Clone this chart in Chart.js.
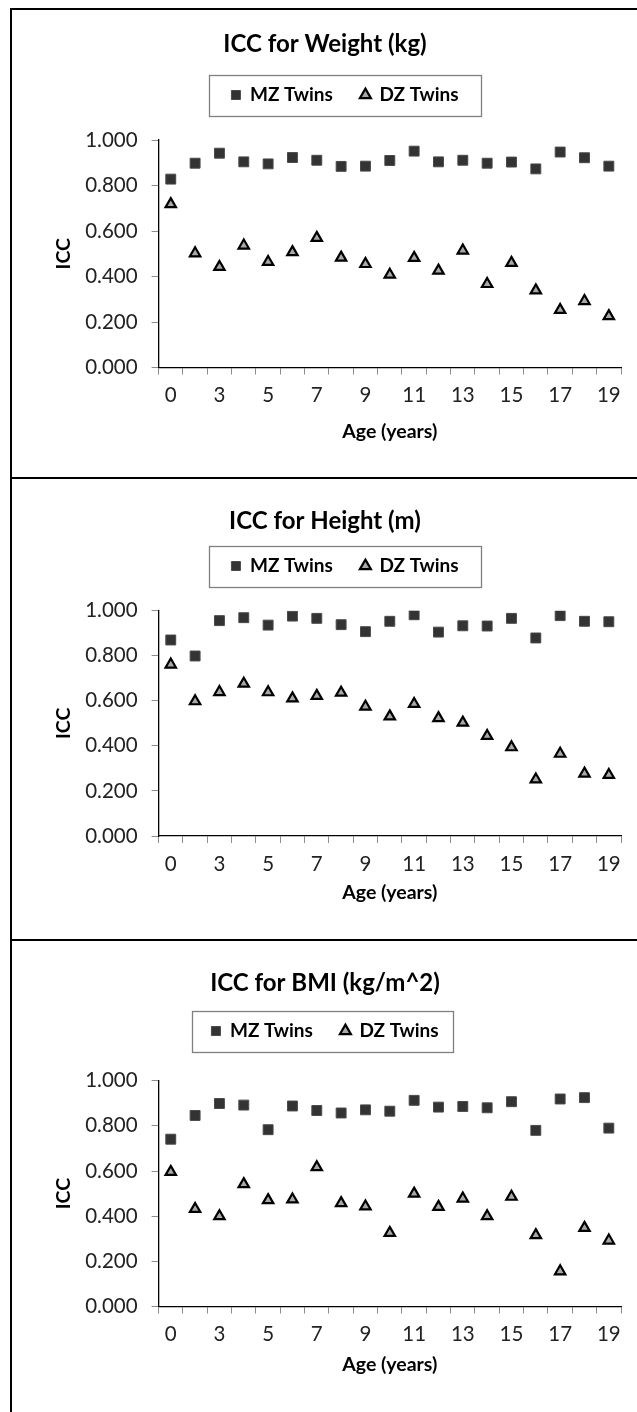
<!DOCTYPE html>
<html>
<head>
<meta charset="utf-8">
<script src="https://cdn.jsdelivr.net/npm/chart.js@4.4.0/dist/chart.umd.min.js"></script>
<style>
  html, body { margin: 0; padding: 0; background: #fff; }
  body { width: 637px; height: 1412px; position: relative; overflow: hidden; }
  .frame { position: absolute; left: 10px; top: 8px; width: 700px; height: 1500px;
           border-left: 2px solid #000; border-top: 2px solid #000; }
  .sep { position: absolute; left: 10px; width: 700px; height: 2px; background: #000; }
  canvas { position: absolute; left: 13px; }
</style>
</head>
<body>
<div class="frame"></div>
<div class="sep" style="top:477px"></div>
<div class="sep" style="top:939px"></div>
<canvas id="weight" width="624" height="467" style="top:10px"></canvas>
<canvas id="height" width="624" height="459" style="top:480px"></canvas>
<canvas id="bmi" width="624" height="470" style="top:942px"></canvas>
<script>
// ---- data ----
const ages = ['0', '1', '3', '4', '5', '6', '7', '8', '9', '10', '11', '12', '13', '14', '15', '16', '17', '18', '19'];
const seriesNames = ['MZ Twins', 'DZ Twins'];

const weightMZ = [0.828, 0.898, 0.942, 0.904, 0.895, 0.923, 0.911, 0.884, 0.885, 0.910, 0.951, 0.904, 0.911, 0.898, 0.903, 0.873, 0.947, 0.922, 0.885];
const weightDZ = [0.718, 0.502, 0.442, 0.536, 0.464, 0.507, 0.570, 0.483, 0.455, 0.408, 0.482, 0.426, 0.514, 0.367, 0.460, 0.339, 0.253, 0.292, 0.226];

const heightMZ = [0.870, 0.799, 0.956, 0.969, 0.936, 0.976, 0.966, 0.938, 0.907, 0.953, 0.982, 0.905, 0.933, 0.932, 0.966, 0.879, 0.978, 0.953, 0.951];
const heightDZ = [0.761, 0.598, 0.639, 0.676, 0.638, 0.611, 0.622, 0.636, 0.574, 0.531, 0.586, 0.523, 0.503, 0.444, 0.394, 0.251, 0.365, 0.277, 0.271];

const bmiMZ = [0.741, 0.846, 0.899, 0.892, 0.783, 0.888, 0.868, 0.857, 0.871, 0.865, 0.913, 0.883, 0.886, 0.880, 0.907, 0.780, 0.919, 0.925, 0.790];
const bmiDZ = [0.596, 0.432, 0.400, 0.542, 0.471, 0.474, 0.617, 0.458, 0.443, 0.326, 0.500, 0.441, 0.478, 0.400, 0.486, 0.316, 0.156, 0.348, 0.292];

const yMin = 0, yMax = 1, yStep = 0.2;

const FONT = 'Lato, "Noto Sans", sans-serif';

// draws the framed box around the legend and nudges it sideways
const legendFrame = {
  id: 'legendFrame',
  afterLayout(chart, args, opts) {
    const lg = chart.legend;
    lg.left += opts.dx;
    lg.right += opts.dx;
  },
  afterDraw(chart, args, opts) {
    const hb = chart.legend.legendHitBoxes;
    if (!hb || !hb.length) return;
    const first = hb[0], last = hb[hb.length - 1];
    const cx = (first.left + last.left + last.width) / 2 + opts.cxOff;
    const cy = first.top + first.height / 2;
    const ctx = chart.ctx;
    ctx.save();
    ctx.strokeStyle = '#808080';
    ctx.lineWidth = 1.3;
    ctx.strokeRect(Math.round(cx - opts.w / 2) + 0.5, Math.round(cy - opts.h / 2) + 0.5, opts.w, opts.h);
    ctx.restore();
  }
};

function makeChart(id, title, mz, dz, L) {
  const canvas = document.getElementById(id);
  const H = canvas.height;
  const P = 28;                       // legend item gap
  const padSide = 16;
  const legendTop = L.legendC - P - 9.5;
  const titleBottom = L.titleC + 14.4;

  return new Chart(canvas, {
    type: 'line',
    data: {
      labels: ages,
      datasets: [
        {
          label: seriesNames[0], data: mz, showLine: false,
          pointStyle: 'rect', pointRadius: 7, pointHoverRadius: 7,
          backgroundColor: '#333333', borderColor: '#4a4a4a', pointBorderWidth: 1
        },
        {
          label: seriesNames[1], data: dz, showLine: false,
          pointStyle: 'triangle', pointRadius: 6, pointHoverRadius: 6,
          backgroundColor: '#a8a8a8', borderColor: '#000000', pointBorderWidth: 2.2
        }
      ]
    },
    options: {
      responsive: false,
      animation: false,
      devicePixelRatio: 1,
      layout: { padding: { left: padSide, right: padSide, top: 0, bottom: 0 } },
      plugins: {
        title: {
          display: true, text: title, color: '#000',
          font: { family: FONT, size: 24, weight: 'bold', lineHeight: 1.2 },
          padding: { top: L.titleC - 14.4, bottom: legendTop - titleBottom }
        },
        subtitle: {   // empty spacer between legend and plot
          display: true, text: '', weight: 500,
          font: { size: 1, lineHeight: 1 },
          padding: { top: L.plotTop - L.legendC - 19.5 - 1, bottom: 0 }
        },
        legend: {
          display: true, position: 'top',
          labels: {
            usePointStyle: true, boxWidth: 9, boxHeight: 9, padding: P, color: '#000',
            font: { family: FONT, size: 19, weight: 'bold' }
          }
        },
        legendFrame: { dx: L.dx, cxOff: L.boxOff, w: L.boxW, h: 41 },
        tooltip: { enabled: false }
      },
      scales: {
        x: {
          offset: true,
          afterFit(scale) { scale.height = H - L.plotBottom; },
          grid: { offset: true, drawOnChartArea: false, drawTicks: true, tickLength: 7, color: '#8c8c8c' },
          border: { color: '#000', width: 1.3 },
          ticks: {
            autoSkip: false, maxRotation: 0, padding: 9, color: '#222',
            font: { family: FONT, size: 20.5 },
            callback(value, index) { return index % 2 === 0 ? ages[index] : ''; }
          },
          title: {
            display: true, text: 'Age (years)', color: '#000',
            font: { family: FONT, size: 19.5, weight: 'bold', lineHeight: 1.2 },
            padding: { top: 0, bottom: H - L.ageC - 11.7 }
          }
        },
        y: {
          min: yMin, max: yMax,
          afterFit(scale) { scale.width = 145.6 - padSide; },
          grid: { drawOnChartArea: false, drawTicks: true, tickLength: 7, color: '#8c8c8c' },
          border: { color: '#000', width: 1.3 },
          ticks: {
            stepSize: yStep, padding: 14, color: '#222',
            font: { family: FONT, size: 20.5 },
            callback(value) { return Number(value).toFixed(3); }
          },
          title: {
            display: true, text: 'ICC', color: '#000',
            font: { family: FONT, size: 19.5, weight: 'bold', lineHeight: 1.2 },
            padding: { top: 51 - padSide - 11.7, bottom: 0 }
          }
        }
      }
    },
    plugins: [legendFrame]
  });
}

makeChart('weight', 'ICC for Weight (kg)', weightMZ, weightDZ,
  { titleC: 34, legendC: 85, plotTop: 130, plotBottom: 357.5, ageC: 422, dx: 20, boxOff: 0, boxW: 272 });
makeChart('height', 'ICC for Height (m)', heightMZ, heightDZ,
  { titleC: 41, legendC: 86, plotTop: 130.7, plotBottom: 356, ageC: 413, dx: 20, boxOff: 0, boxW: 272 });
makeChart('bmi', 'ICC for BMI (kg/m^2)', bmiMZ, bmiDZ,
  { titleC: 41, legendC: 89, plotTop: 138.7, plotBottom: 364.5, ageC: 423, dx: 0, boxOff: -3, boxW: 261 });
</script>
</body>
</html>
